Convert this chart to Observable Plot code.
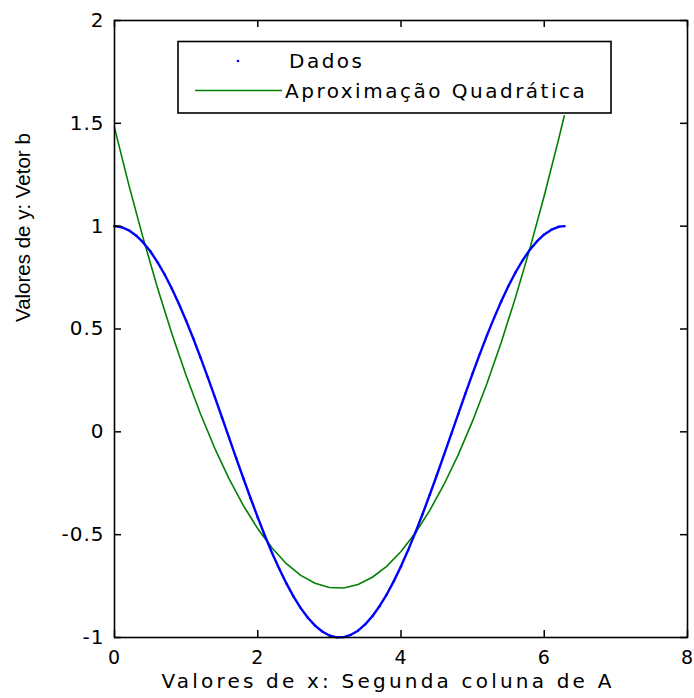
<!DOCTYPE html>
<html><head><meta charset="utf-8">
<script src="https://cdn.jsdelivr.net/npm/d3@7"></script>
<script src="https://cdn.jsdelivr.net/npm/@observablehq/plot@0.6"></script>
<style>
body{margin:0;background:#fff;}
#wrap{position:relative;width:694px;height:698px;}
</style></head><body><div id="wrap"></div>
<script>
// Data
const xData = [0,0.1,0.2,0.3,0.4,0.5,0.6,0.7,0.8,0.9,1.0,1.1,1.2,1.3,1.4,1.5,1.6,1.7,1.8,1.9,2.0,2.1,2.2,2.3,2.4,2.5,2.6,2.7,2.8,2.9,3.0,3.1,3.2,3.3,3.4,3.5,3.6,3.7,3.8,3.9,4.0,4.1,4.2,4.3,4.4,4.5,4.6,4.7,4.8,4.9,5.0,5.1,5.2,5.3,5.4,5.5,5.6,5.7,5.8,5.9,6.0,6.1,6.2,6.28];
const yData = [1.000,0.995,0.980,0.955,0.921,0.878,0.825,0.765,0.697,0.622,0.540,0.454,0.362,0.267,0.170,0.071,-0.029,-0.129,-0.227,-0.323,-0.416,-0.505,-0.589,-0.666,-0.737,-0.801,-0.857,-0.904,-0.942,-0.971,-0.990,-0.999,-0.998,-0.987,-0.967,-0.936,-0.897,-0.848,-0.791,-0.726,-0.654,-0.575,-0.490,-0.401,-0.307,-0.211,-0.112,-0.012,0.087,0.187,0.284,0.378,0.469,0.554,0.635,0.709,0.776,0.835,0.886,0.927,0.960,0.983,0.997,1.000];
const xFit = [0,0.2,0.4,0.6,0.8,1.0,1.2,1.4,1.6,1.8,2.0,2.2,2.4,2.6,2.8,3.0,3.2,3.4,3.6,3.8,4.0,4.2,4.4,4.6,4.8,5.0,5.2,5.4,5.6,5.8,6.0,6.2,6.28];
const yFit = [1.479,1.201,0.942,0.701,0.478,0.274,0.088,-0.080,-0.229,-0.359,-0.471,-0.565,-0.641,-0.698,-0.736,-0.757,-0.759,-0.742,-0.707,-0.654,-0.582,-0.492,-0.383,-0.256,-0.111,0.053,0.235,0.436,0.655,0.892,1.148,1.422,1.537];
const xTicks = [0,2,4,6,8];
const yTicks = [-1,-0.5,0,0.5,1,1.5,2];
const seriesNames = ["Dados","Aproximação Quadrática"];
const seriesColors = ["#0000ff","#008000"];
const xLabel = "Valores de x: Segunda coluna de A";
const yLabel = "Valores de y: Vetor b";

const dados = xData.map((x,i)=>({x, y:yData[i]}));
const fit = xFit.map((x,i)=>({x, y:yFit[i]}));

const W=694, H=698, mL=114, mR=7, mT=20, mB=61;
const fw=W-mL-mR, fh=H-mT-mB, tk=7;

const plot = Plot.plot({
  width:W, height:H, marginLeft:mL, marginRight:mR, marginTop:mT, marginBottom:mB,
  x:{domain:[0,8]}, y:{domain:[-1,2]},
  style:{fontFamily:"DejaVu Sans", fontSize:"20px", color:"#000", background:"#fff"},
  marks:[
    Plot.line(fit,{x:"x",y:"y",stroke:seriesColors[1],strokeWidth:1.6}),
    Plot.line(dados,{x:"x",y:"y",stroke:seriesColors[0],strokeWidth:2.4}),
    Plot.dot(dados,{x:"x",y:"y",fill:seriesColors[0],r:1.2}),
    Plot.frame({stroke:"#000",strokeWidth:1.6}),
    Plot.tickX(xTicks,{x:d=>d,insetTop:fh-tk,stroke:"#000",strokeWidth:1.5}),
    Plot.tickX(xTicks,{x:d=>d,insetBottom:fh-tk,stroke:"#000",strokeWidth:1.5}),
    Plot.tickY(yTicks,{y:d=>d,insetRight:fw-tk,stroke:"#000",strokeWidth:1.5}),
    Plot.tickY(yTicks,{y:d=>d,insetLeft:fw-tk,stroke:"#000",strokeWidth:1.5}),
    Plot.axisX(xTicks,{tickSize:0,tickPadding:13,tickFormat:d=>String(d),label:null,fontSize:19}),
    Plot.axisY(yTicks,{tickSize:0,tickPadding:10,tickFormat:d=>String(d),label:null,fontSize:20}),
    Plot.text([xLabel],{text:d=>d,frameAnchor:"bottom",dx:-13,dy:44.5,lineAnchor:"middle",fontSize:20}),
    Plot.text([yLabel],{text:d=>d,frameAnchor:"left",rotate:-90,dx:-91,dy:-7,lineAnchor:"middle",fontFamily:"Liberation Sans",fontSize:20.5})
  ]
});
document.getElementById("wrap").appendChild(plot);

const svg = d3.select(plot);
svg.selectAll("text").filter(function(){ return this.textContent === xLabel; }).style("letter-spacing","3.2px");
svg.selectAll('g[aria-label="x-axis tick label"] text, g[aria-label="y-axis tick label"] text').style("letter-spacing","1px");

// Legend (inside the axes, as in the reference)
const lg = svg.append("g").attr("font-family","DejaVu Sans").attr("font-size",20).attr("fill","#000").attr("text-anchor","start").style("letter-spacing","2.5px");
lg.append("rect").attr("x",178).attr("y",41.5).attr("width",433).attr("height",71.5).attr("fill","#fff").attr("stroke","#000").attr("stroke-width",1.6);
lg.append("circle").attr("cx",238).attr("cy",61).attr("r",1.3).attr("fill",seriesColors[0]);
lg.append("line").attr("x1",195).attr("x2",282).attr("y1",90.5).attr("y2",90.5).attr("stroke",seriesColors[1]).attr("stroke-width",1.6);
lg.append("text").attr("x",289).attr("y",68).text(seriesNames[0]);
lg.append("text").attr("x",285).attr("y",97.5).text(seriesNames[1]);
</script>
</body></html>
